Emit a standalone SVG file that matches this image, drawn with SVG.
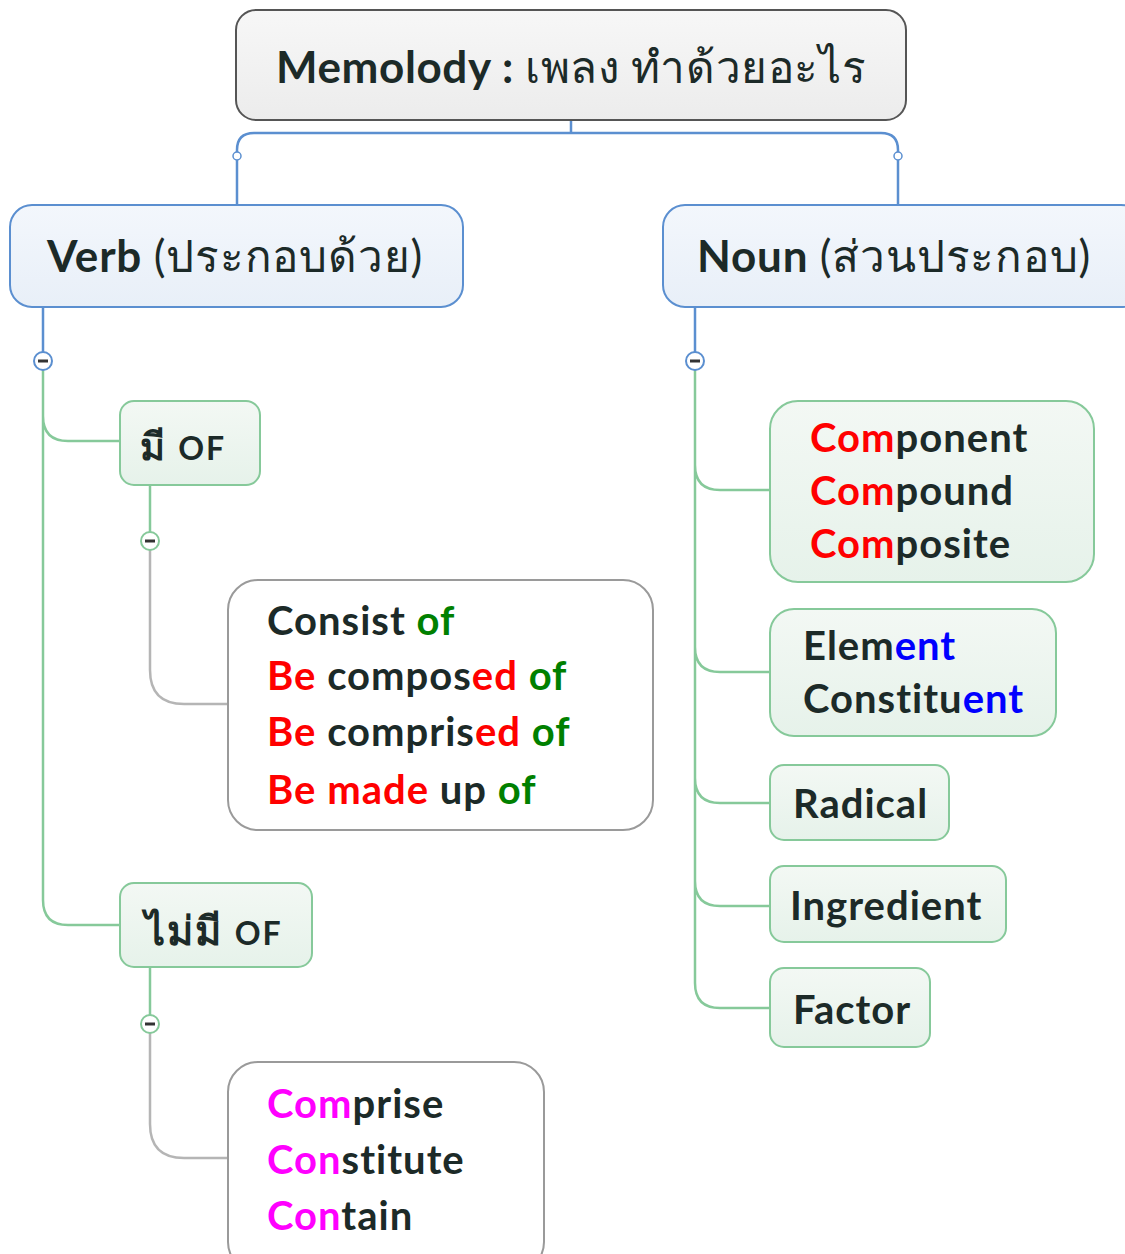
<svg xmlns="http://www.w3.org/2000/svg" width="1125" height="1254" viewBox="0 0 1125 1254">
<defs>
<linearGradient id="gRoot" x1="0" y1="0" x2="0" y2="1"><stop offset="0" stop-color="#f7f7f7"/><stop offset="1" stop-color="#ececec"/></linearGradient>
<linearGradient id="gBlue" x1="0" y1="0" x2="0" y2="1"><stop offset="0" stop-color="#f3f7fc"/><stop offset="1" stop-color="#e8eff8"/></linearGradient>
<linearGradient id="gGreen" x1="0" y1="0" x2="0" y2="1"><stop offset="0" stop-color="#f3f8f4"/><stop offset="1" stop-color="#e6f2ea"/></linearGradient>
</defs>
<style>
text{font-family:Lato,"Open Sans","Noto Sans","DejaVu Sans",sans-serif;font-weight:bold;fill:#1c2a28}
.t{font-size:40px;letter-spacing:1px}
.h{font-size:44px;letter-spacing:0.8px}
.s{font-size:38px;letter-spacing:2px}
.root{fill:url(#gRoot);stroke:#555;stroke-width:2}
.main{fill:url(#gBlue);stroke:#5b8fd0;stroke-width:2}
.sub{fill:url(#gGreen);stroke:#86c99a;stroke-width:2}
.leaf{fill:#fff;stroke:#9a9a9a;stroke-width:2}
.cb{fill:none;stroke:#5b8fd0;stroke-width:2.5}
.cg{fill:none;stroke:#86c99a;stroke-width:2.5}
.cgr{fill:none;stroke:#b5b5b5;stroke-width:2.5}
.tog{fill:#fff;stroke-width:2}
.r{fill:#ff0000}.g{fill:#008000}.b{fill:#0000ff}.m{fill:#ff00ff}
</style>
<g id="connectors">
<path class="cb" d="M571,120 V133 M237,205 V150 Q237,133 254,133 H881 Q898,133 898,150 V205"/>
<circle cx="237" cy="156" r="4" fill="#fff" stroke="#5b8fd0" stroke-width="1.5"/>
<circle cx="898" cy="156" r="4" fill="#fff" stroke="#5b8fd0" stroke-width="1.5"/>
<path class="cb" d="M43,307 V352"/>
<path class="cg" d="M43,370 V416 Q43,441 68,441 H120 M43,416 V900 Q43,925 68,925 H120"/>
<path class="cg" d="M150,485 V532 M150,967 V1015"/>
<path class="cgr" d="M150,550 V670 Q150,704 184,704 H228 M150,1033 V1124 Q150,1158 184,1158 H228"/>
<path class="cb" d="M695,307 V352"/>
<path class="cg" d="M695,370 V983 Q695,1008 720,1008 H770 M695,465 Q695,490 720,490 H770 M695,647 Q695,672 720,672 H770 M695,778 Q695,803 720,803 H770 M695,881 Q695,906 720,906 H770"/>
<g class="tog"><circle cx="43" cy="361" r="9" stroke="#5b8fd0"/><rect x="38" y="359.5" width="10" height="3" fill="#333"/></g>
<g class="tog"><circle cx="695" cy="361" r="9" stroke="#5b8fd0"/><rect x="690" y="359.5" width="10" height="3" fill="#333"/></g>
<g class="tog"><circle cx="150" cy="541" r="9" stroke="#86c99a"/><rect x="145" y="539.5" width="10" height="3" fill="#333"/></g>
<g class="tog"><circle cx="150" cy="1024" r="9" stroke="#86c99a"/><rect x="145" y="1022.5" width="10" height="3" fill="#333"/></g>
</g>
<g id="root">
<rect class="root" x="236" y="10" width="670" height="110" rx="20"/>
<text class="h" x="276" y="83" style="letter-spacing:0.6px">Memolody : <tspan font-weight="normal">เพลง ทำด้วยอะไร</tspan></text>
</g>
<g id="verb">
<rect class="main" x="10" y="205" width="453" height="102" rx="22"/>
<text class="h" x="47" y="272">Verb <tspan font-weight="normal">(ประกอบด้วย)</tspan></text>
</g>
<g id="noun">
<rect class="main" x="663" y="205" width="480" height="102" rx="22"/>
<text class="h" x="697" y="272">Noun <tspan font-weight="normal">(ส่วนประกอบ)</tspan></text>
</g>
<g id="mi-of">
<rect class="sub" x="120" y="401" width="140" height="84" rx="14"/>
<text class="s" x="140" y="460">มี <tspan font-size="32">OF</tspan></text>
</g>
<g id="consist">
<rect class="leaf" x="228" y="580" width="425" height="250" rx="30"/>
<text class="t" x="267" y="635">Consist <tspan class="g">of</tspan></text>
<text class="t" x="267" y="690"><tspan class="r">Be</tspan> compos<tspan class="r">ed</tspan> <tspan class="g">of</tspan></text>
<text class="t" x="267" y="746"><tspan class="r">Be</tspan> compris<tspan class="r">ed</tspan> <tspan class="g">of</tspan></text>
<text class="t" x="267" y="804"><tspan class="r">Be made</tspan> up <tspan class="g">of</tspan></text>
</g>
<g id="maimi-of">
<rect class="sub" x="120" y="883" width="192" height="84" rx="14"/>
<text class="s" x="145" y="945" font-size="40" font-weight="normal" style="font-size:40px">ไม่มี <tspan font-size="32" style="font-size:32px" font-weight="bold">OF</tspan></text>
</g>
<g id="comprise">
<rect class="leaf" x="228" y="1062" width="316" height="210" rx="30"/>
<text class="t" x="267" y="1118"><tspan class="m">Com</tspan>prise</text>
<text class="t" x="267" y="1174"><tspan class="m">Con</tspan>stitute</text>
<text class="t" x="267" y="1230"><tspan class="m">Con</tspan>tain</text>
</g>
<g id="component">
<rect class="sub" x="770" y="401" width="324" height="181" rx="28"/>
<text class="t" x="810" y="452"><tspan class="r">Com</tspan>ponent</text>
<text class="t" x="810" y="505"><tspan class="r">Com</tspan>pound</text>
<text class="t" x="810" y="558"><tspan class="r">Com</tspan>posite</text>
</g>
<g id="element">
<rect class="sub" x="770" y="609" width="286" height="127" rx="24"/>
<text class="t" x="803" y="660">Elem<tspan class="b">ent</tspan></text>
<text class="t" x="803" y="713">Constitu<tspan class="b">ent</tspan></text>
</g>
<g id="radical">
<rect class="sub" x="770" y="765" width="179" height="75" rx="14"/>
<text class="t" x="793" y="818">Radical</text>
</g>
<g id="ingredient">
<rect class="sub" x="770" y="866" width="236" height="76" rx="14"/>
<text class="t" x="790" y="920">Ingredient</text>
</g>
<g id="factor">
<rect class="sub" x="770" y="968" width="160" height="79" rx="14"/>
<text class="t" x="793" y="1024">Factor</text>
</g>
</svg>
